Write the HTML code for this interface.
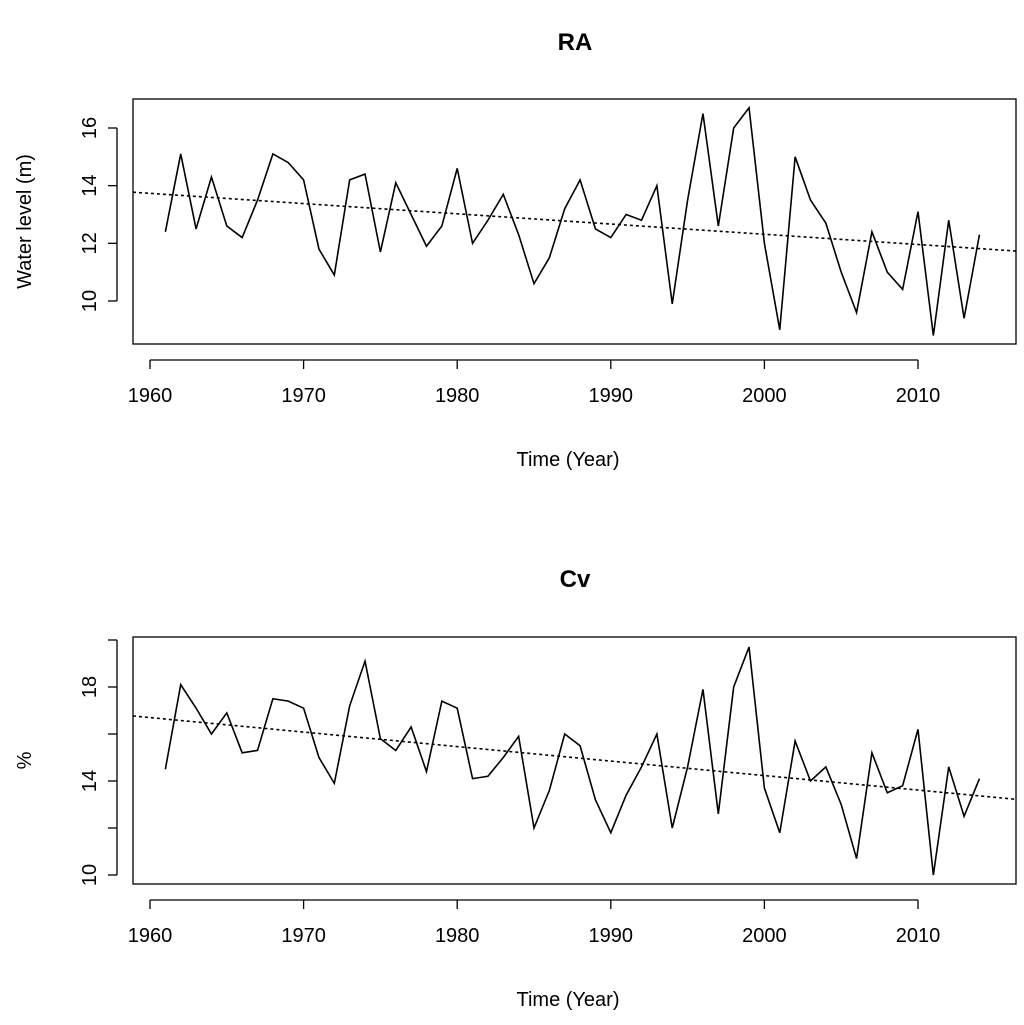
<!DOCTYPE html>
<html><head><meta charset="utf-8"><style>
body{margin:0;background:#fff}
svg text{font-family:"Liberation Sans",Arial,sans-serif;fill:#000}
</style></head><body>
<svg id="c" width="1024" height="1020" viewBox="0 0 1024 1020"></svg>
<script>
const years=[];for(let y=1961;y<=2014;y++)years.push(y);
const raValues=[12.4,15.1,12.5,14.3,12.6,12.2,13.5,15.1,14.8,14.2,11.8,10.9,14.2,14.4,11.7,14.1,13.0,11.9,12.6,14.6,12.0,12.8,13.7,12.3,10.6,11.5,13.2,14.2,12.5,12.2,13.0,12.8,14.0,9.9,13.5,16.5,12.6,16.0,16.7,12.0,9.0,15.0,13.5,12.7,11.0,9.6,12.4,11.0,10.4,13.1,8.8,12.8,9.4,12.3];
const cvValues=[14.5,18.1,17.1,16.0,16.9,15.2,15.3,17.5,17.4,17.1,15.0,13.9,17.2,19.1,15.8,15.3,16.3,14.4,17.4,17.1,14.1,14.2,15.0,15.9,12.0,13.6,16.0,15.5,13.2,11.8,13.4,14.6,16.0,12.0,14.6,17.9,12.6,18.0,19.7,13.7,11.8,15.7,14.0,14.6,13.0,10.7,15.2,13.5,13.8,16.2,10.0,14.6,12.5,14.1];
const xTicks=[1960,1970,1980,1990,2000,2010];
const raTicks=[10,12,14,16];
const raTickLabels=["10","12","14","16"];
const cvTicks=[10,12,14,16,18,20];
const cvTickLabels=["10","","14","","18",""];

const svg=document.getElementById('c');
const NS='http://www.w3.org/2000/svg';
function mk(tag,attrs,parent){const e=document.createElementNS(NS,tag);for(const k in attrs)e.setAttribute(k,attrs[k]);(parent||svg).appendChild(e);return e;}
const xs=y=>150+(y-1960)*15.36;
const X0=133,X1=1016;
function panel(p){
  const g=mk('g',{});
  
  
  const ys=v=>p.yRef+(p.vRef-v)*p.ppu;
  const box=mk('rect',{x:X0,y:p.top,width:X1-X0,height:p.bot-p.top,fill:'none',stroke:'#000','stroke-width':1.3},g);
  
  
  const t=mk('text',{x:575,y:p.titleY,'text-anchor':'middle','font-size':24,'font-weight':'bold'},g);
  t.textContent=p.title;
  
  
  // x axis
  const yb=p.bot+16;
  const xa=mk('line',{x1:xs(xTicks[0]),x2:xs(xTicks[xTicks.length-1]),y1:yb,y2:yb,stroke:'#000','stroke-width':1.3},g);
  
  
  xTicks.forEach(v=>{
    mk('line',{x1:xs(v),x2:xs(v),y1:yb,y2:yb+9,stroke:'#000','stroke-width':1.3},g);
    const l=mk('text',{x:xs(v),y:yb+42,'text-anchor':'middle','font-size':20},g);
    l.textContent=v;
    
    
  });
  const xt=mk('text',{x:568,y:p.bot+122,'text-anchor':'middle','font-size':20},g);
  xt.textContent='Time (Year)';
  
  
  // y axis
  const xl=X0-16;
  const ya=mk('line',{x1:xl,x2:xl,y1:ys(p.ticks[0]),y2:ys(p.ticks[p.ticks.length-1]),stroke:'#000','stroke-width':1.3},g);
  
  
  p.ticks.forEach((v,i)=>{
    mk('line',{x1:xl-9,x2:xl,y1:ys(v),y2:ys(v),stroke:'#000','stroke-width':1.3},g);
    if(p.labels[i]){
      const l=mk('text',{x:0,y:0,'text-anchor':'middle','font-size':20,transform:`translate(${xl-28},${ys(v)}) rotate(-90)`,dy:7},g);
      l.textContent=p.labels[i];
      
      
    }
  });
  const yt=mk('text',{x:0,y:0,'text-anchor':'middle','font-size':20,transform:`translate(${p.ytX},${(p.top+p.bot)/2}) rotate(-90)`},g);
  yt.textContent=p.ytitle;
  
  
  // series
  const line=mk('polyline',{points:years.map((y,i)=>xs(y)+','+ys(p.vals[i])).join(' '),fill:'none',stroke:'#000','stroke-width':1.6,'stroke-linejoin':'miter'},g);
  
  
  // linear trend
  const n=years.length;const mx=years.reduce((a,b)=>a+b)/n;const my=p.vals.reduce((a,b)=>a+b)/n;
  let sxy=0,sxx=0;years.forEach((y,i)=>{sxy+=(y-mx)*(p.vals[i]-my);sxx+=(y-mx)*(y-mx);});
  const b=sxy/sxx;const f=y=>my+b*(y-mx);
  const ya0=1960+(X0-150)/15.36,ya1=1960+(X1-150)/15.36;
  const tr=mk('line',{x1:X0,x2:X1,y1:ys(f(ya0)),y2:ys(f(ya1)),stroke:'#000','stroke-width':1.6,'stroke-dasharray':'3 3'},g);
  
  
}
panel({name:'ra',title:'RA',titleY:50,top:99,bot:344,yRef:128,vRef:16,ppu:28.83,ticks:raTicks,labels:raTickLabels,vals:raValues,ytitle:'Water level (m)',ytX:31});
panel({name:'cv',title:'Cv',titleY:587,top:637,bot:884,yRef:687,vRef:18,ppu:23.5,ticks:cvTicks,labels:cvTickLabels,vals:cvValues,ytitle:'%',ytX:31});
</script>
</body></html>
